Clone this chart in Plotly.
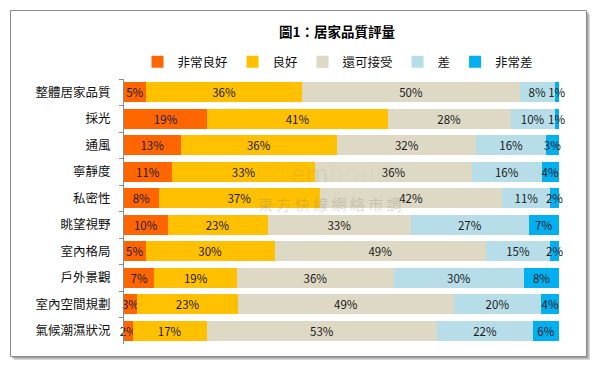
import plotly.graph_objects as go

categories = ["整體居家品質", "採光", "通風", "寧靜度", "私密性", "眺望視野",
              "室內格局", "戶外景觀", "室內空間規劃", "氣候潮濕狀況"]
series_names = ["非常良好", "良好", "還可接受", "差", "非常差"]
very_good = [5, 19, 13, 11, 8, 10, 5, 7, 3, 2]
good = [36, 41, 36, 33, 37, 23, 30, 19, 23, 17]
acceptable = [50, 28, 32, 36, 42, 33, 49, 36, 49, 53]
poor = [8, 10, 16, 16, 11, 27, 15, 30, 20, 22]
very_poor = [1, 1, 3, 4, 2, 7, 2, 8, 4, 6]
colors = ["#FF6600", "#FFC000", "#DDD9C4", "#B7DEE8", "#00B0F0"]

series = [very_good, good, acceptable, poor, very_poor]
totals = [sum(s[i] for s in series) for i in range(len(categories))]

# page body has an 8px default margin; work in window pixels and offset
OFF = 8
W, H = 598 - OFF, 368 - OFF
L, R, T, B = 124 - OFF, 559 - OFF, 79 - OFF, 344 - OFF
FONT = "Noto Sans CJK TC, Noto Sans, sans-serif"

def px(x):
    return (x - OFF - L) / (R - L)

def py(y):
    return (B - (y - OFF)) / (B - T)

fig = go.Figure()
for name, vals, col in zip(series_names, series, colors):
    share = [v / t * 100 for v, t in zip(vals, totals)]
    fig.add_trace(go.Bar(
        name=name, y=categories, x=share, orientation="h",
        marker=dict(color=col, line=dict(width=0)),
        text=[f"{v}%" for v in vals], textposition="inside", textangle=0,
        insidetextanchor="middle", constraintext="none", cliponaxis=False,
        textfont=dict(family=FONT, size=11.5, color="#1a1a1a"),
        hoverinfo="skip",
    ))

shapes = [
    # shadow
    dict(type="rect", xref="paper", yref="paper", layer="below",
         x0=px(14), x1=px(590), y0=py(14), y1=py(360),
         fillcolor="rgba(0,0,0,0.15)", line=dict(width=0)),
    dict(type="rect", xref="paper", yref="paper", layer="below",
         x0=px(12), x1=px(588.5), y0=py(12), y1=py(358.5),
         fillcolor="rgba(0,0,0,0.25)", line=dict(width=0)),
    # frame
    dict(type="rect", xref="paper", yref="paper", layer="below",
         x0=px(10.5), x1=px(586.5), y0=py(10.5), y1=py(356.5),
         fillcolor="white", line=dict(color="#8c8c8c", width=1)),
]

annotations = [
    dict(text="東 方 快 線 網 絡 市 調", xref="paper", yref="paper",
         x=px(330), y=py(203), showarrow=False,
         font=dict(family=FONT, size=15, color="rgba(130,130,130,0.28)")),
    dict(text="<span style='color:rgba(190,180,160,0.22)'>Eol</span>"
              "<span style='color:rgba(120,120,120,0.38)'>em</span>"
              "<span style='color:rgba(190,180,160,0.22)'>brain</span>",
         xref="paper", yref="paper", x=px(322), y=py(175), showarrow=False,
         font=dict(family="DejaVu Sans, sans-serif", size=24, color="rgba(150,150,150,0.3)")),
]

fig.update_layout(
    width=W, height=H,
    margin=dict(l=L, r=W - R, t=T, b=H - B),
    paper_bgcolor="white", plot_bgcolor="rgba(0,0,0,0)",
    barmode="stack", bargap=0.26,
    uniformtext=dict(minsize=11.5, mode="show"),
    title=dict(text="<b>圖1：居家品質評量</b>", x=px(337), xref="paper",
               xanchor="center", y=1 - (32 - OFF) / H, yanchor="middle",
               font=dict(family=FONT, size=13.5, color="#000000")),
    legend=dict(orientation="h", x=px(338), xanchor="center", y=py(62),
                yanchor="middle", font=dict(family=FONT, size=12.5, color="#111111"),
                bgcolor="rgba(0,0,0,0)", traceorder="normal"),
    xaxis=dict(range=[0, 100], visible=False, showgrid=False, zeroline=False, fixedrange=True),
    yaxis=dict(autorange="reversed", showline=True, linecolor="#8c8c8c", linewidth=1,
               ticks="outside", ticklen=4, tickcolor="#8c8c8c", tickson="boundaries",
               ticklabelstandoff=10, showgrid=False, automargin=False,
               tickfont=dict(family=FONT, size=12.5, color="#111111")),
    shapes=shapes, annotations=annotations,
    showlegend=True,
)

fig.write_html("out.html")
